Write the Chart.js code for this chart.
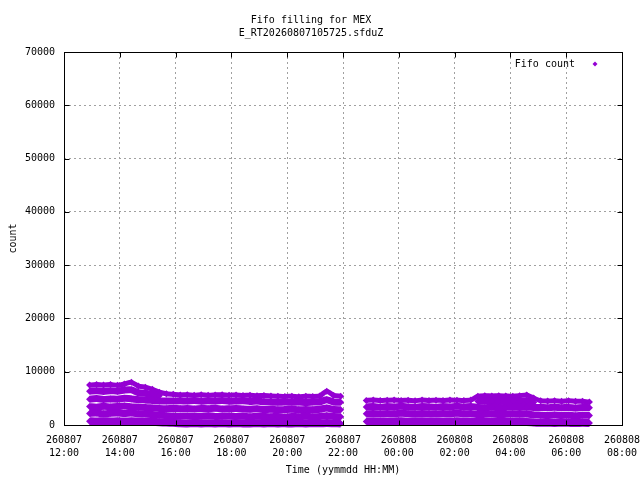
<!DOCTYPE html>
<html>
<head>
<meta charset="utf-8">
<script src="https://cdn.jsdelivr.net/npm/chart.js@4/dist/chart.umd.min.js"></script>
<style>
  html, body { margin: 0; padding: 0; background: #fff; }
  #wrap { width: 640px; height: 480px; }
</style>
</head>
<body>
<div id="wrap"><canvas id="chart" width="640" height="480"></canvas></div>
<script>
const TITLE_LINES = ["Fifo filling for MEX", "E_RT20260807105725.sfduZ"];
const SERIES_LABEL = "Fifo count";
const X_TITLE = "Time (yymmdd HH:MM)";
const Y_TITLE = "count";

const X_TICK_LABELS = [
  "260807 12:00", "260807 14:00", "260807 16:00", "260807 18:00", "260807 20:00",
  "260807 22:00", "260808 00:00", "260808 02:00", "260808 04:00", "260808 06:00",
  "260808 08:00",
];
const Y_TICKS = [0, 10000, 20000, 30000, 40000, 50000, 60000, 70000];

// first run, 260807
const SEG1_TIMES = [
  "12:55", "13:10", "13:25", "13:40", "13:55", "14:10", "14:25", "14:40", "14:55",
  "15:10", "15:25", "15:40", "15:55", "16:10", "16:25", "16:40", "16:55", "17:10",
  "17:25", "17:40", "17:55", "18:10", "18:25", "18:40", "18:55", "19:10", "19:25",
  "19:40", "19:55", "20:10", "20:25", "20:40", "20:55", "21:10", "21:25", "21:40",
  "21:55",
];
const SEG1_BAND0 = [
  700, 650, 720, 660, 700, 640, 690, 650, 620, 580, 520, 460, 400,
  320, 300, 350, 290, 330, 300, 350, 290, 330, 300, 280, 330, 300,
  350, 290, 320, 280, 330, 300, 350, 310, 370, 330, 300,
];
const SEG1_BAND1 = [
  2150, 2250, 2100, 2200, 2250, 2150, 2250, 2100, 2050, 1950, 1850, 1750, 1700,
  1650, 1700, 1600, 1650, 1750, 1600, 1650, 1700, 1600, 1650, 1550, 1650, 1600,
  1550, 1600, 1500, 1600, 1550, 1650, 1550, 1600, 1750, 1600, 1550,
];
const SEG1_BAND2 = [
  3450, 3350, 3500, 3400, 3450, 3550, 3400, 3350, 3300, 3200, 3100, 3050, 3100,
  3050, 3100, 3000, 3100, 3050, 3150, 3000, 3050, 3100, 3000, 2950, 3050, 2900,
  2950, 2850, 2900, 2950, 2850, 2900, 2850, 2950, 3200, 2900, 2850,
];
const SEG1_BAND3 = [
  4850, 4950, 4800, 4900, 4850, 5000, 4900, 4750, 4700, 4600, 4500, 4500, 4500,
  4550, 4500, 4600, 4450, 4550, 4500, 4600, 4450, 4500, 4550, 4400, 4500, 4350,
  4300, 4250, 4300, 4250, 4300, 4200, 4300, 4350, 4750, 4300, 4250,
];
const SEG1_BAND4 = [
  6350, 6450, 6300, 6450, 6350, 6550, 6600, 6050, 5950, 5700, 5500, null, null,
  null, null, null, null, null, null, null, null, null, null, null, null, null,
  null, null, null, null, null, null, null, null, null, null, null,
];
const SEG1_TOP = [
  7500, 7600, 7500, 7600, 7450, 7700, 8000, 7300, 7100, 6700, 6150, 5850, 5750,
  5650, 5700, 5600, 5700, 5600, 5650, 5700, 5600, 5650, 5550, 5600, 5500, 5550,
  5450, 5400, 5350, 5400, 5300, 5400, 5350, 5450, 6350, 5550, 5400,
];

// second run, 260807 22:50 -> 260808
const SEG2_TIMES = [
  "22:50", "23:05", "23:20", "23:35", "23:50", "00:05", "00:20", "00:35", "00:50",
  "01:05", "01:20", "01:35", "01:50", "02:05", "02:20", "02:35", "02:50", "03:05",
  "03:20", "03:35", "03:50", "04:05", "04:20", "04:35", "04:50", "05:05", "05:20",
  "05:35", "05:50", "06:05", "06:20", "06:35", "06:50",
];
const SEG2_BAND0 = [
  650, 700, 600, 680, 650, 720, 630, 670, 700, 650, 620, 680, 650, 700, 660, 640,
  600, 550, 620, 560, 580, 600, 550, 580, 480,
  400, 430, 380, 420, 400, 370, 410, 390,
];
const SEG2_BAND1 = [
  2100, 2150, 2050, 2150, 2100, 2200, 2100, 2050, 2150, 2100, 2050, 2150, 2100, 2200, 2100, 2150,
  1950, 2000, 2050, 1950, 2000, 2050, 2000, 2050, 1900,
  1850, 1800, 1900, 1800, 1850, 1750, 1850, 1800,
];
const SEG2_BAND2 = [
  3400, 3450, 3350, 3450, 3400, 3500, 3400, 3350, 3450, 3400, 3350, 3450, 3400, 3500, 3400, 3450,
  3300, 3250, 3350, 3250, 3300, 3350, 3300, 3350, 3300,
  3300, 3250, 3350, 3250, 3300, 3200, 3300, 3250,
];
const SEG2_BAND3 = [
  null, null, null, null, null, null, null, null, null, null, null, null, null, null, null, null,
  4450, 4500, 4450, 4400, 4450, 4500, 4450, 4550, 4200,
  null, null, null, null, null, null, null, null,
];
const SEG2_TOP = [
  4600, 4700, 4600, 4650, 4700, 4600, 4650, 4550, 4700, 4600, 4650, 4600, 4700, 4650, 4600, 4700,
  5400, 5500, 5450, 5500, 5450, 5400, 5500, 5650, 5050,
  4550, 4500, 4550, 4450, 4550, 4450, 4450, 4300,
];

const PURPLE = "#9400d3";
const GRID = "#a0a0a0";
const FONT = { family: "'DejaVu Sans Mono', monospace", size: 10 };

// hours after 260807 12:00
function toHours(hhmm) {
  const [h, m] = hhmm.split(":").map(Number);
  let v = h + m / 60;
  if (v < 12) v += 24;
  return v - 12;
}

function band(times, values, width) {
  return {
    label: SERIES_LABEL,
    data: times.map((t, i) => ({ x: toHours(t), y: values[i] })),
    borderColor: PURPLE,
    backgroundColor: PURPLE,
    borderWidth: width,
    pointRadius: 3.5,
    pointStyle: "rectRot",
    pointBorderWidth: 0,
    pointBackgroundColor: PURPLE,
    tension: 0.2,
    spanGaps: false,
    clip: false,
  };
}

const framePlugin = {
  id: "frame",
  afterDatasetsDraw(chart) {
    const { ctx, chartArea: a, scales } = chart;
    const l = Math.floor(a.left) + 0.5, t = Math.floor(a.top) + 0.5;
    const r = Math.round(a.right) + 0.5, b = Math.round(a.bottom) + 0.5;
    ctx.save();
    ctx.strokeStyle = "#000";
    ctx.lineWidth = 1;
    ctx.strokeRect(l, t, r - l, b - t);
    ctx.beginPath();
    scales.y.ticks.forEach((tk) => {
      const y = Math.round(scales.y.getPixelForValue(tk.value)) + 0.5;
      ctx.moveTo(l, y); ctx.lineTo(l + 5, y);
      ctx.moveTo(r, y); ctx.lineTo(r - 5, y);
    });
    scales.x.ticks.forEach((tk) => {
      const x = Math.round(scales.x.getPixelForValue(tk.value)) + 0.5;
      ctx.moveTo(x, b); ctx.lineTo(x, b - 5);
      ctx.moveTo(x, t); ctx.lineTo(x, t + 5);
    });
    ctx.stroke();

    // key, top right inside the plot
    const ky = a.top + 12;
    ctx.fillStyle = "#000";
    ctx.font = "10px 'DejaVu Sans Mono', monospace";
    ctx.textAlign = "right";
    ctx.textBaseline = "middle";
    ctx.fillText(chart.data.datasets[0].label, a.right - 47, ky);
    const kx = a.right - 27, kr = 2.5;
    ctx.fillStyle = PURPLE;
    ctx.beginPath();
    ctx.moveTo(kx, ky - kr); ctx.lineTo(kx + kr, ky);
    ctx.lineTo(kx, ky + kr); ctx.lineTo(kx - kr, ky);
    ctx.closePath();
    ctx.fill();
    ctx.restore();
  },
};

new Chart(document.getElementById("chart").getContext("2d"), {
  type: "line",
  data: {
    datasets: [
      band(SEG1_TIMES, SEG1_BAND0, 8),
      band(SEG1_TIMES, SEG1_BAND1, 7),
      band(SEG1_TIMES, SEG1_BAND2, 7),
      band(SEG1_TIMES, SEG1_BAND3, 7),
      band(SEG1_TIMES, SEG1_BAND4, 7),
      band(SEG1_TIMES, SEG1_TOP, 5),
      band(SEG2_TIMES, SEG2_BAND0, 8),
      band(SEG2_TIMES, SEG2_BAND1, 7),
      band(SEG2_TIMES, SEG2_BAND2, 7),
      band(SEG2_TIMES, SEG2_BAND3, 7),
      band(SEG2_TIMES, SEG2_TOP, 5),
    ],
  },
  options: {
    responsive: false,
    animation: false,
    devicePixelRatio: 1,
    layout: { padding: { left: 0, right: 18, top: 0, bottom: 0 } },
    plugins: {
      legend: { display: false },
      tooltip: { enabled: false },
      title: {
        display: true,
        text: TITLE_LINES,
        color: "#000",
        font: { ...FONT, weight: "normal", lineHeight: 1.3 },
        padding: { top: 14, bottom: 12 },
      },
    },
    scales: {
      x: {
        type: "linear",
        min: 0,
        max: 20,
        ticks: {
          stepSize: 2,
          autoSkip: false,
          maxRotation: 0,
          color: "#000",
          font: { ...FONT, lineHeight: 1.3 },
          padding: 9,
          callback: (v) => X_TICK_LABELS[Math.round(v / 2)].split(" "),
        },
        grid: { color: GRID, lineWidth: 1, drawTicks: false },
        border: { display: false, dash: [2, 3] },
        title: {
          display: true,
          text: X_TITLE,
          color: "#000",
          font: FONT,
          padding: { top: 0, bottom: 4 },
        },
        afterFit: (s) => { s.height = 55; s.paddingLeft = 0; s.paddingRight = 0; },
      },
      y: {
        min: Y_TICKS[0],
        max: Y_TICKS[Y_TICKS.length - 1],
        ticks: {
          stepSize: Y_TICKS[1] - Y_TICKS[0],
          color: "#000",
          font: FONT,
          padding: 9,
          callback: (v) => String(v),
        },
        grid: { color: GRID, lineWidth: 1, drawTicks: false },
        border: { display: false, dash: [2, 3] },
        title: {
          display: true,
          text: Y_TITLE,
          color: "#000",
          font: FONT,
          padding: { top: 7, bottom: 0 },
        },
        afterFit: (s) => { s.width = 64; },
      },
    },
  },
  plugins: [framePlugin],
});
</script>
</body>
</html>
